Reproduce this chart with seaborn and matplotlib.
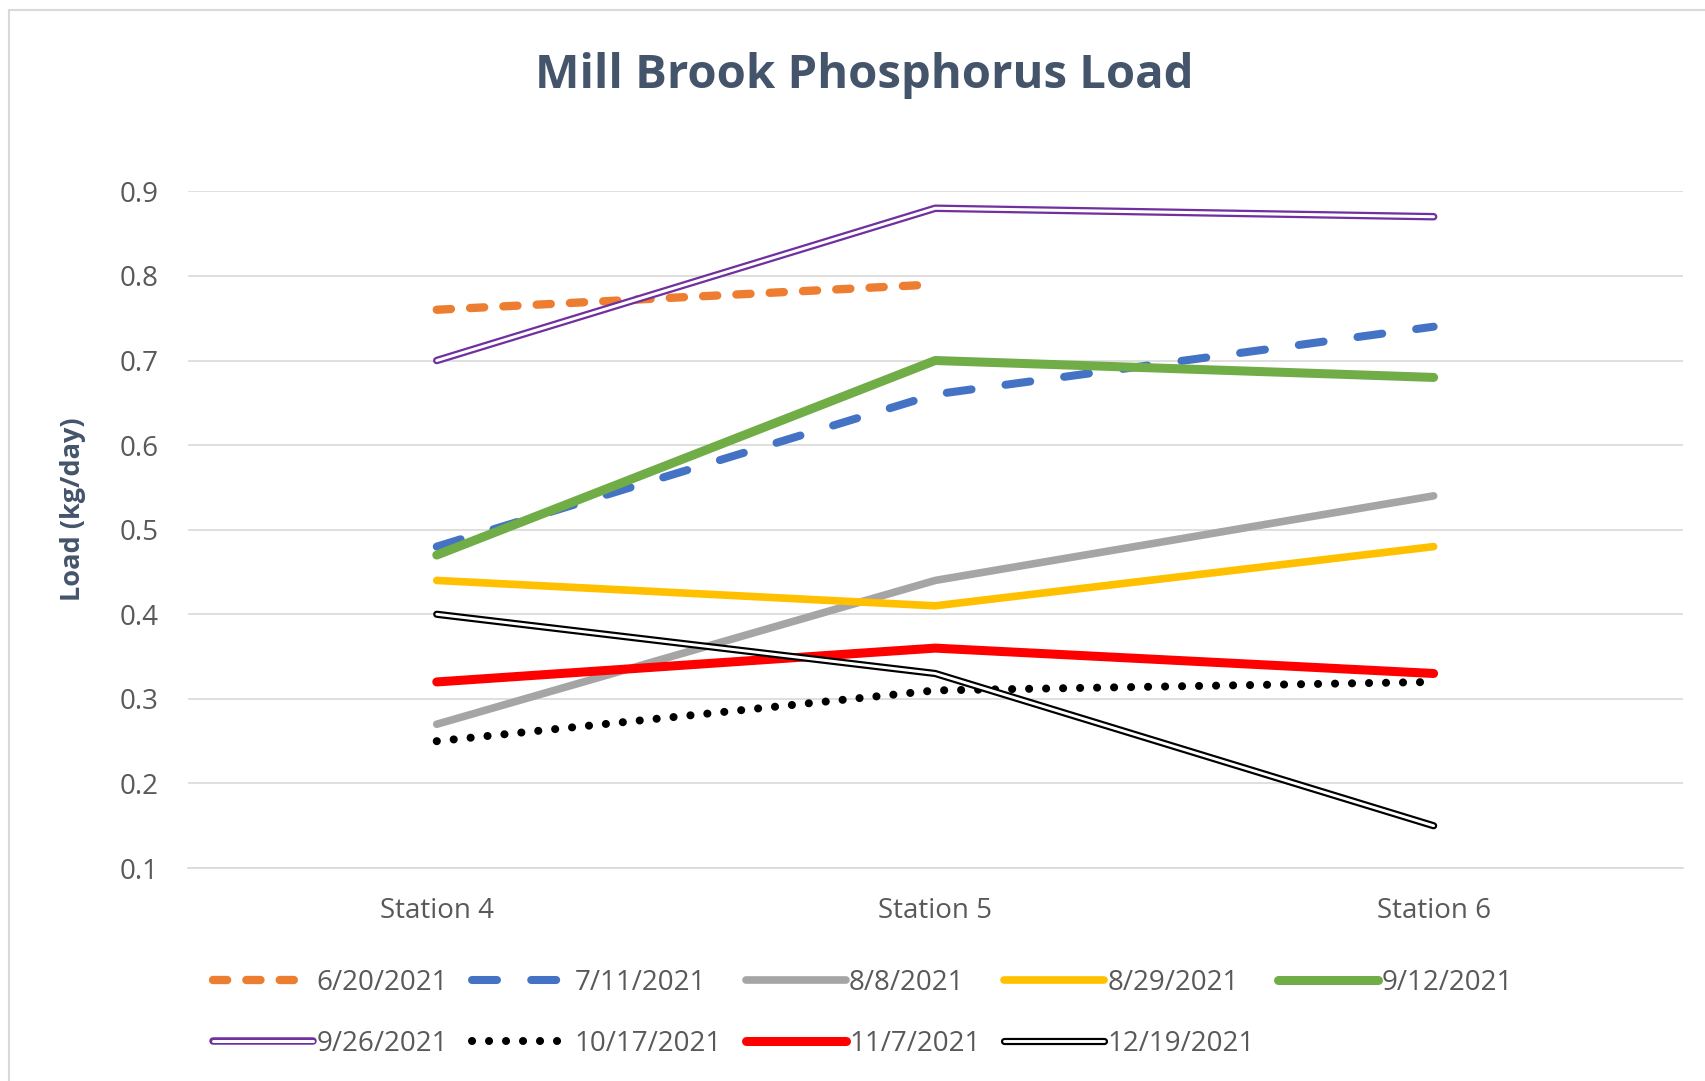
import pandas as pd
import numpy as np
import seaborn as sns
from matplotlib import pyplot as plt
import matplotlib.patheffects as pe
from matplotlib.patches import Rectangle

stations = ['Station 4', 'Station 5', 'Station 6']
dates = ['6/20/2021', '7/11/2021', '8/8/2021', '8/29/2021', '9/12/2021',
         '9/26/2021', '10/17/2021', '11/7/2021', '12/19/2021']

load_0620 = [0.76, 0.79, np.nan]
load_0711 = [0.48, 0.66, 0.74]
load_0808 = [0.27, 0.44, 0.54]
load_0829 = [0.44, 0.41, 0.48]
load_0912 = [0.47, 0.70, 0.68]
load_0926 = [0.70, 0.88, 0.87]
load_1017 = [0.25, 0.31, 0.32]
load_1107 = [0.32, 0.36, 0.33]
load_1219 = [0.40, 0.33, 0.15]

all_loads = [load_0620, load_0711, load_0808, load_0829, load_0912,
             load_0926, load_1017, load_1107, load_1219]

rows = []
for d, vals in zip(dates, all_loads):
    for s, v in zip(stations, vals):
        rows.append({'date': d, 'station': s, 'load': v})
df = pd.DataFrame(rows)

# colour, linewidth, dashes, double line
styles = {
    '6/20/2021': ('#ED7D31', 6, (1.7, 2.3), False),
    '7/11/2021': ('#4472C4', 5.8, (3.1, 4.25), False),
    '8/8/2021': ('#A5A5A5', 5.5, None, False),
    '8/29/2021': ('#FFC000', 5.5, None, False),
    '9/12/2021': ('#70AD47', 6.5, None, False),
    '9/26/2021': ('#7030A0', 5.4, None, True),
    '10/17/2021': ('#000000', 5.8, (0.01, 2.1), False),
    '11/7/2021': ('#FF0000', 6.5, None, False),
    '12/19/2021': ('#000000', 5.2, None, True),
}

sns.set_style('white')
plt.rcParams['font.family'] = ['Open Sans', 'DejaVu Sans']

fig = plt.figure(figsize=(17.05, 10.81), dpi=100)
ax = fig.add_axes([0.110, 0.197, 0.877, 0.626])

for d in dates:
    color, lw, dashes, double = styles[d]
    sub = df[df['date'] == d].dropna()
    if double:
        sns.lineplot(data=sub, x='station', y='load', ax=ax, color='white',
                     linewidth=lw * 0.4, label=d, sort=False,
                     path_effects=[pe.Stroke(linewidth=lw, foreground=color),
                                   pe.Normal()])
    else:
        sns.lineplot(data=sub, x='station', y='load', ax=ax, color=color,
                     linewidth=lw, label=d, sort=False)
        line = ax.get_lines()[-1]
        if dashes is not None:
            line.set_dashes(dashes)
            line.set_dash_capstyle('round')
        line.set_solid_capstyle('round')
    ax.get_lines()[-1].set_solid_joinstyle('round')

if ax.get_legend() is not None:
    ax.get_legend().remove()

ax.set_xlim(-0.5, 2.5)
ax.set_ylim(0.1, 0.9)
ax.set_yticks(np.arange(0.1, 0.91, 0.1))
ax.set_yticklabels([f'{t:.1f}' for t in np.arange(0.1, 0.91, 0.1)])
ax.yaxis.grid(True, color='#D9D9D9', linewidth=1.2)
ax.set_axisbelow(True)
for side in ['top', 'right', 'left']:
    ax.spines[side].set_visible(False)
ax.spines['bottom'].set_color('#D9D9D9')
ax.spines['bottom'].set_linewidth(1.2)
ax.tick_params(axis='both', length=0, labelsize=20, colors='#595959')
ax.tick_params(axis='x', pad=21)
ax.tick_params(axis='y', pad=21)
ax.set_xlabel('')
ax.set_ylabel('')

fig.text(0.507, 0.93, 'Mill Brook Phosphorus Load', ha='center', va='center',
         fontsize=34, fontweight='bold', color='#44546A')
fig.text(0.043, 0.529, 'Load (kg/day)', ha='center', va='center',
         rotation=90, fontsize=19.5, fontweight='bold', color='#44546A')

handles, labels = ax.get_legend_handles_labels()
order = [0, 5, 1, 6, 2, 7, 3, 8, 4]
fig.legend([handles[i] for i in order], [labels[i] for i in order],
           loc='upper left', bbox_to_anchor=(0.125, 0.104), ncol=5,
           frameon=False, fontsize=20, handlelength=3.6, handletextpad=0.12,
           columnspacing=0.85, labelspacing=1.2, labelcolor='#595959',
           borderaxespad=0, borderpad=0)

fig.patches.append(Rectangle((9 / 1705, -0.05), 1.2, 1 - 10 / 1081 + 0.05,
                             transform=fig.transFigure, fill=False,
                             edgecolor='#D9D9D9', linewidth=1.5))

fig.savefig('out.png', dpi=100, facecolor='white')
